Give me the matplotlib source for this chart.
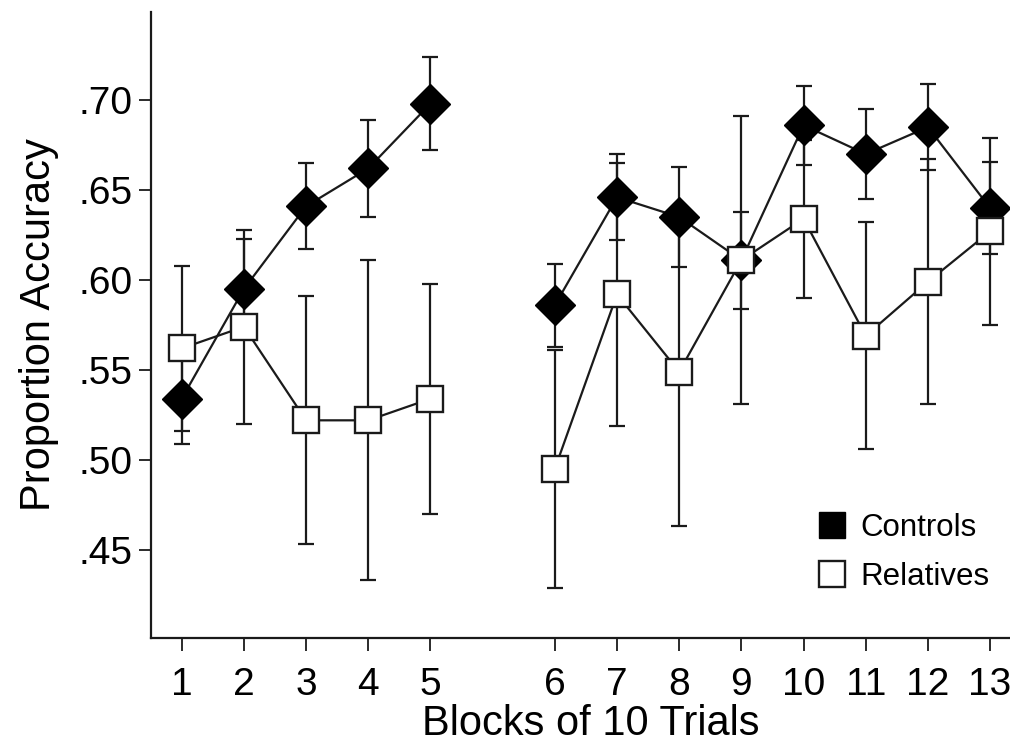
import matplotlib.pyplot as plt
from matplotlib.lines import Line2D
import numpy as np

plt.rcParams['font.family'] = ['Liberation Sans', 'DejaVu Sans']

# data
blocks = [1, 2, 3, 4, 5, 6, 7, 8, 9, 10, 11, 12, 13]
controls_mean = [0.534, 0.595, 0.641, 0.662, 0.698, 0.586, 0.646, 0.635, 0.611, 0.686, 0.670, 0.685, 0.640]
controls_err = [0.025, 0.028, 0.024, 0.027, 0.026, 0.023, 0.024, 0.028, 0.027, 0.022, 0.025, 0.024, 0.0255]
relatives_mean = [0.562, 0.574, 0.522, 0.522, 0.534, 0.495, 0.592, 0.549, 0.611, 0.634, 0.569, 0.599, 0.627]
relatives_err = [0.046, 0.054, 0.069, 0.089, 0.064, 0.066, 0.073, 0.086, 0.080, 0.044, 0.063, 0.068, 0.052]
y_ticks = [0.45, 0.50, 0.55, 0.60, 0.65, 0.70]
y_ticklabels = ['.45', '.50', '.55', '.60', '.65', '.70']

blocks = np.array(blocks)
# a gap of one slot between the two sessions (blocks 1-5 and 6-13)
xpos = blocks + (blocks >= 6)
sessions = [blocks <= 5, blocks >= 6]

fig = plt.figure(figsize=(10.1, 7.45), dpi=100)
ax = fig.add_axes([0.1495, 0.1436, 0.8505, 0.8404])

c_m = np.array(controls_mean)
c_e = np.array(controls_err)
r_m = np.array(relatives_mean)
r_e = np.array(relatives_err)

ink = '#1a1a1a'

# error bars
ax.errorbar(xpos, c_m, yerr=c_e, fmt='none', ecolor=ink, elinewidth=1.6,
            capsize=6, capthick=1.6, zorder=2)
ax.errorbar(xpos, r_m, yerr=r_e, fmt='none', ecolor=ink, elinewidth=1.6,
            capsize=6, capthick=1.6, zorder=2)

# connecting lines, one per session
for sel in sessions:
    ax.plot(xpos[sel], c_m[sel], color=ink, lw=1.6, zorder=3)
    ax.plot(xpos[sel], r_m[sel], color=ink, lw=1.6, zorder=3)

ax.plot(xpos, c_m, ls='none', marker='D', ms=20.5, mfc='black', mec='black', zorder=4)
ax.plot(xpos, r_m, ls='none', marker='s', ms=19, mfc='white', mec=ink, mew=1.7, zorder=5)

ax.set_xlim(0.506, 14.32)
ax.set_ylim(0.401, 0.749)
ax.set_xticks(xpos)
ax.set_xticklabels([str(b) for b in blocks])
ax.set_yticks(y_ticks)
ax.set_yticklabels(y_ticklabels)

for side in ['top', 'right']:
    ax.spines[side].set_visible(False)
for side in ['left', 'bottom']:
    ax.spines[side].set_linewidth(1.6)
    ax.spines[side].set_color(ink)

ax.tick_params(axis='both', direction='out', length=9, width=1.3, color=ink, labelsize=28)
ax.tick_params(axis='x', pad=12)
ax.tick_params(axis='y', pad=4)

ax.set_xlabel('Blocks of 10 Trials', fontsize=30)
ax.xaxis.set_label_coords(0.512, -0.105)
ax.set_ylabel('Proportion Accuracy', fontsize=30, labelpad=14)

handles = [
    Line2D([], [], ls='none', marker='s', ms=19, mfc='black', mec='black'),
    Line2D([], [], ls='none', marker='s', ms=19, mfc='white', mec=ink, mew=1.7),
]
ax.legend(handles, ['Controls', 'Relatives'], loc='upper left', bbox_to_anchor=(0.775, 0.199),
          frameon=False, fontsize=22.5, handlelength=1.0, handletextpad=0.4,
          labelspacing=0.6, borderpad=0, borderaxespad=0)

plt.savefig('out.png', dpi=100)
